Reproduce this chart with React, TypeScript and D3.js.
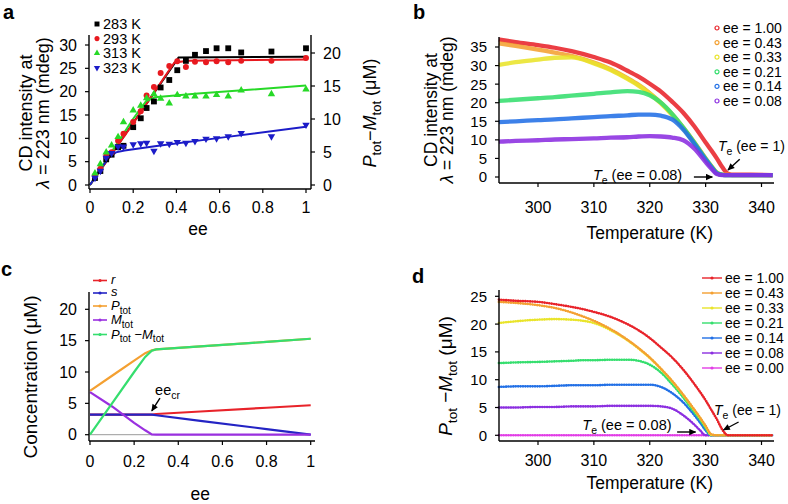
import React from 'react';
import * as d3 from 'd3';

const FONT = '"Liberation Sans", Arial, Helvetica, sans-serif';

// ---- panel a: CD intensity vs ee at four temperatures ----
const eeA = [0.023, 0.048, 0.075, 0.1, 0.13, 0.155, 0.2, 0.235, 0.262, 0.296, 0.327, 0.367, 0.404, 0.444, 0.486, 0.537, 0.586, 0.64, 0.7, 0.84, 1.0];
const cd283 = [1.5, 3.0, 5.5, 6.5, 8.1, 8.4, 12.4, 14.3, 16.5, 17.9, 20.9, 22.5, 24.6, 26.6, 27.9, 28.7, 29.3, 29.3, 28.4, 28.6, 29.3];
const cd293 = [2.0, 3.5, 6.2, 7.0, 9.5, 11.0, 13.5, 15.8, 19.2, 21.0, 24.0, 25.5, 26.5, 25.3, 26.4, 26.3, 26.5, 26.3, 26.6, 26.6, 27.2];
const cd313 = [2.5, 4.5, 7.0, 8.5, 10.3, 13.5, 16.0, 17.0, 18.6, 19.5, 18.5, 17.5, 19.3, 19.0, 19.0, 19.0, 19.3, 19.0, 20.3, 19.5, 20.5];
const cd323 = [1.5, 3.0, 5.8, 6.8, 8.2, 8.2, 8.7, 8.9, 9.0, 7.3, 8.9, 8.8, 9.2, 9.0, 9.4, 9.9, 10.0, 10.4, 11.1, 10.4, 12.9];
const fit283: [number, number][] = [[0, 0], [0.41, 27.3], [1, 27.5]];
const fit293: [number, number][] = [[0, 0], [0.2, 13.2], [0.39, 26.2], [0.45, 26.6], [1, 26.9]];
const fit313: [number, number][] = [[0, 0], [0.2, 14.2], [0.26, 18.0], [0.3, 18.8], [0.5, 19.6], [1, 21.3]];
const fit323: [number, number][] = [[0, 0], [0.05, 3.5], [0.09, 6.0], [0.12, 7.0], [0.16, 7.4], [0.3, 8.3], [0.6, 10.1], [1, 12.5]];
const legendA = ['283 K', '293 K', '313 K', '323 K'];

// ---- panel b: measured CD vs temperature ----
const tempB = [293, 296, 300, 303, 306, 310, 313, 316, 318, 320, 322, 324, 326, 328, 330, 331, 332, 333, 334, 335, 338, 342];
const cdB100 = [37.0, 36.3, 35.5, 34.8, 33.9, 32.3, 30.8, 28.6, 27.0, 25.1, 23.0, 20.3, 17.3, 13.6, 9.3, 7.2, 5.0, 2.6, 0.9, 0.6, 0.6, 0.5];
const cdB043 = [36.0, 35.3, 34.3, 33.5, 32.6, 30.8, 29.0, 26.6, 24.8, 22.6, 20.0, 16.9, 13.3, 9.3, 5.0, 3.0, 1.2, 0.6, 0.6, 0.5, 0.5, 0.5];
const cdB033 = [30.2, 30.9, 31.6, 32.1, 32.2, 30.6, 28.8, 26.4, 24.6, 22.4, 19.8, 16.7, 13.1, 9.1, 4.8, 2.8, 1.0, 0.6, 0.5, 0.5, 0.5, 0.5];
const cdB021 = [20.5, 20.8, 21.2, 21.5, 21.9, 22.4, 22.8, 23.1, 22.9, 22.0, 20.0, 17.0, 13.3, 9.2, 4.9, 2.9, 1.1, 0.6, 0.5, 0.5, 0.5, 0.5];
const cdB014 = [14.8, 15.0, 15.3, 15.5, 15.8, 16.1, 16.4, 16.6, 16.8, 16.8, 16.5, 15.5, 12.8, 8.9, 4.7, 2.7, 1.0, 0.6, 0.5, 0.5, 0.5, 0.5];
const cdB008 = [9.5, 9.7, 9.9, 10.1, 10.2, 10.4, 10.6, 10.7, 10.9, 11.0, 10.9, 10.6, 9.9, 7.6, 4.0, 2.3, 0.8, 0.5, 0.5, 0.5, 0.5, 0.5];
const legendB = ['ee = 1.00', 'ee = 0.43', 'ee = 0.33', 'ee = 0.21', 'ee = 0.14', 'ee = 0.08'];

// ---- panel c: model concentrations vs ee ----
const eeC = [0, 0.1, 0.2, 0.25, 0.28, 0.3, 0.5, 0.8, 1.0];
const concR = [3.2, 3.2, 3.2, 3.2, 3.2, 3.3, 3.7, 4.3, 4.7];
const concS = [3.2, 3.2, 3.2, 3.2, 3.2, 3.1, 2.2, 0.9, 0.0];
const concPtot = [7.0, 9.4, 11.8, 13.0, 13.45, 13.6, 14.1, 14.8, 15.3];
const concMtot = [6.8, 4.5, 1.9, 0.7, 0.05, 0, 0, 0, 0];
const concPM = [0, 5.0, 10.0, 12.4, 13.4, 13.6, 14.1, 14.8, 15.3];

// ---- panel d: model P_tot - M_tot vs temperature ----
const tempD = [293, 296, 300, 303, 306, 308, 310, 313, 316, 318, 320, 322, 324, 326, 328, 329, 330, 331, 332, 333, 334, 336, 342];
const pmD100 = [24.4, 24.2, 24.0, 23.6, 23.1, 22.7, 22.2, 21.3, 20.0, 18.9, 17.5, 15.8, 14.0, 11.8, 9.2, 7.8, 6.3, 4.6, 2.9, 1.0, 0, 0, 0];
const pmD043 = [24.0, 23.8, 23.4, 22.9, 22.1, 21.4, 20.6, 19.1, 17.2, 15.7, 14.0, 12.0, 9.8, 7.3, 4.6, 3.2, 1.7, 0.2, 0, 0, 0, 0, 0];
const pmD033 = [20.2, 20.5, 20.8, 20.9, 20.8, 20.6, 20.2, 18.9, 17.1, 15.6, 13.9, 11.9, 9.7, 7.2, 4.5, 3.1, 1.6, 0.1, 0, 0, 0, 0, 0];
const pmD021 = [13.0, 13.1, 13.2, 13.3, 13.4, 13.5, 13.5, 13.6, 13.6, 13.4, 12.7, 11.3, 9.2, 6.8, 4.1, 2.8, 1.3, 0, 0, 0, 0, 0, 0];
const pmD014 = [8.7, 8.8, 8.8, 8.9, 9.0, 9.0, 9.0, 9.1, 9.1, 9.1, 9.1, 8.7, 7.6, 5.9, 3.6, 2.3, 0.9, 0, 0, 0, 0, 0, 0];
const pmD008 = [5.0, 5.0, 5.1, 5.1, 5.2, 5.2, 5.2, 5.3, 5.3, 5.3, 5.3, 5.2, 4.8, 3.6, 1.9, 0.9, 0, 0, 0, 0, 0, 0, 0];
const pmD000 = [0, 0, 0, 0, 0, 0, 0, 0, 0, 0, 0, 0, 0, 0, 0, 0, 0, 0, 0, 0, 0, 0, 0];
const legendD = ['ee = 1.00', 'ee = 0.43', 'ee = 0.33', 'ee = 0.21', 'ee = 0.14', 'ee = 0.08', 'ee = 0.00'];

const ticksEe = [0, 0.2, 0.4, 0.6, 0.8, 1];
const ticksT = [300, 310, 320, 330, 340];

const RAINBOW = ['#e8232a', '#f4a031', '#e9e42a', '#35de6e', '#2270e6', '#8b2ee0', '#e23ee6'];

const zip = (xs: number[], ys: number[]): [number, number][] => xs.map((v, i) => [v, ys[i]]);
const fmtEe = (v: number) => (v === 0 || v === 1 ? String(v) : v.toFixed(1));

type Sc = d3.ScaleLinear<number, number>;

const pathOf = (x: Sc, y: Sc, pts: [number, number][], curve: d3.CurveFactory = d3.curveLinear) =>
  d3.line<[number, number]>().x((d) => x(d[0])).y((d) => y(d[1])).curve(curve)(pts) || '';

function LeftAxis({ y, ticks, x, top, bottom, fs, gap = 12, right = false }: any) {
  const dir = right ? 1 : -1;
  return (
    <g>
      <line x1={x} x2={x} y1={top} y2={bottom} stroke="#000" strokeWidth={1.4} />
      {ticks.map((t: number) => (
        <g key={t}>
          <line x1={x} x2={x + dir * 4} y1={y(t)} y2={y(t)} stroke="#000" strokeWidth={1.2} />
          <text x={x + dir * gap} y={y(t)} dy="0.36em" fontSize={fs} textAnchor={right ? 'start' : 'end'}>
            {t}
          </text>
        </g>
      ))}
    </g>
  );
}

function BottomAxis({ x, ticks, y, left, right, fs, base, fmt = String }: any) {
  return (
    <g>
      <line x1={left} x2={right} y1={y} y2={y} stroke="#000" strokeWidth={1.4} />
      {ticks.map((t: number) => (
        <g key={t}>
          <line x1={x(t)} x2={x(t)} y1={y} y2={y + 4} stroke="#000" strokeWidth={1.2} />
          <text x={x(t)} y={base} fontSize={fs} textAnchor="middle">
            {fmt(t)}
          </text>
        </g>
      ))}
    </g>
  );
}

const Rot = ({ x, y, fs, children }: any) => (
  <text transform={`translate(${x},${y}) rotate(-90)`} fontSize={fs} textAnchor="middle">
    {children}
  </text>
);

const sym = (type: d3.SymbolType, size: number) => d3.symbol().type(type).size(size)() || '';

export default function App() {
  // scales
  const xA = d3.scaleLinear().domain([0, 1]).range([90, 306]);
  const yA = d3.scaleLinear().domain([0, 30]).range([185, 45]);
  const yA2 = d3.scaleLinear().domain([0, 20]).range([185, 53]);

  const xB = d3.scaleLinear().domain([300, 340]).range([538, 761.5]);
  const yB = d3.scaleLinear().domain([0, 35]).range([177, 47]);

  const xC = d3.scaleLinear().domain([0, 1]).range([90, 310.7]);
  const yC = d3.scaleLinear().domain([0, 20]).range([434.7, 309.3]);

  const xD = d3.scaleLinear().domain([300, 340]).range([538, 761.5]);
  const yD = d3.scaleLinear().domain([0, 25]).range([435.3, 296.3]);

  const colorsA = ['#000000', '#e8191f', '#27d927', '#1c1cc8'];
  const shapesA = [
    sym(d3.symbolSquare, 34),
    sym(d3.symbolCircle, 28),
    sym(d3.symbolTriangle, 24),
    sym(d3.symbolTriangle, 24),
  ];
  const pointsA = [cd283, cd293, cd313, cd323];
  const fitsA = [fit283, fit293, fit313, fit323];

  const seriesB = [cdB100, cdB043, cdB033, cdB021, cdB014, cdB008];
  const seriesD = [pmD100, pmD043, pmD033, pmD021, pmD014, pmD008, pmD000];

  const cSeries = [
    { v: concR, c: '#e8232a' },
    { v: concPtot, c: '#f4a031' },
    { v: concS, c: '#2424c4' },
    { v: concMtot, c: '#9a30e0' },
    { v: concPM, c: '#35de6e' },
  ];
  const cLegendColors = ['#e8232a', '#2424c4', '#f4a031', '#9a30e0', '#35de6e'];
  const cLegendY = [280.5, 293, 306, 320, 334.5];

  const arrow = 'url(#arr)';

  return (
    <svg
      width={788}
      height={504}
      viewBox="0 0 788 504"
      style={{ position: 'absolute', left: 0, top: 0, background: '#fff' }}
      fontFamily={FONT}
    >
      <defs>
        <marker id="arr" viewBox="0 0 10 10" refX="9" refY="5" markerUnits="userSpaceOnUse" markerWidth="8" markerHeight="7" orient="auto">
          <path d="M0,0.5 L10,5 L0,9.5 z" fill="#000" />
        </marker>
      </defs>
      <rect width={788} height={504} fill="#fff" />

      {/* ================= a ================= */}
      <text x={3} y={19} fontSize={20} fontWeight="bold">a</text>
      {fitsA.map((f, i) => (
        <path key={i} d={pathOf(xA, yA, f)} fill="none" stroke={colorsA[i]} strokeWidth={2} />
      ))}
      {pointsA.map((vals, i) =>
        zip(eeA, vals).map((p, j) => (
          <path
            key={`${i}-${j}`}
            d={shapesA[i]}
            fill={colorsA[i]}
            transform={`translate(${xA(p[0])},${yA(p[1])})${i === 3 ? ' rotate(180)' : ''}`}
          />
        ))
      )}
      <LeftAxis y={yA} ticks={[0, 5, 10, 15, 20, 25, 30]} x={89} top={35} bottom={189} fs={16} />
      <LeftAxis y={yA2} ticks={[0, 5, 10, 15, 20]} x={311} top={35} bottom={189} fs={16} right />
      <BottomAxis x={xA} ticks={ticksEe} y={189} left={89} right={311} fs={16} base={213} fmt={fmtEe} />
      <text x={xA(0.5)} y={235} fontSize={17.5} textAnchor="middle">ee</text>
      <Rot x={32} y={113} fs={18}>CD intensity at</Rot>
      <Rot x={49} y={113} fs={18}>
        <tspan fontStyle="italic">λ</tspan> = 223 nm (mdeg)
      </Rot>
      <Rot x={376} y={113} fs={18}>
        <tspan fontStyle="italic">P</tspan>
        <tspan fontSize={13} dy={5}>tot</tspan>
        <tspan dy={-5}>−</tspan>
        <tspan fontStyle="italic">M</tspan>
        <tspan fontSize={13} dy={5}>tot</tspan>
        <tspan dy={-5}> (μM)</tspan>
      </Rot>
      {legendA.map((l, i) => (
        <g key={l} transform={`translate(97,${24 + i * 14.6})`}>
          <path d={shapesA[i]} fill={colorsA[i]} transform={`scale(0.85)${i === 3 ? ' rotate(180)' : ''}`} />
          <text x={6} y={0} dy="0.36em" fontSize={14.5}>{l}</text>
        </g>
      ))}

      {/* ================= b ================= */}
      <text x={413} y={19} fontSize={20} fontWeight="bold">b</text>
      {seriesB.map((s, i) => (
        <path
          key={i}
          d={pathOf(xB, yB, zip(tempB, s), d3.curveMonotoneX)}
          fill="none"
          stroke={RAINBOW[i]}
          strokeWidth={4.3}
          strokeLinejoin="round"
          strokeOpacity={0.88}
        />
      ))}
      <LeftAxis y={yB} ticks={[0, 5, 10, 15, 20, 25, 30, 35]} x={499} top={37} bottom={183} fs={15} />
      <BottomAxis x={xB} ticks={ticksT} y={183} left={499} right={774} fs={16} base={213} />
      <text x={xB(320)} y={239} fontSize={17.5} textAnchor="middle">Temperature (K)</text>
      <Rot x={437} y={110} fs={17.5}>CD intensity at</Rot>
      <Rot x={453} y={110} fs={17.5}>
        <tspan fontStyle="italic">λ</tspan> = 223 nm (mdeg)
      </Rot>
      {legendB.map((l, i) => (
        <g key={l} transform={`translate(717,${28 + i * 14.6})`}>
          <circle r={2} fill="none" stroke={RAINBOW[i]} strokeWidth={1.2} />
          <text x={6} y={0} dy="0.36em" fontSize={14}>{l}</text>
        </g>
      ))}
      <text x={xB(332.2)} y={151} fontSize={14}>
        <tspan fontStyle="italic">T</tspan>
        <tspan fontSize={10.5} dy={4}>e</tspan>
        <tspan dy={-4}> (ee = 1)</tspan>
      </text>
      <line x1={xB(336.1)} y1={yB(4.8)} x2={xB(334)} y2={yB(1.9)} stroke="#000" strokeWidth={1.4} markerEnd={arrow} />
      <text x={xB(325.8)} y={180} fontSize={14.5} textAnchor="end">
        <tspan fontStyle="italic">T</tspan>
        <tspan fontSize={10.5} dy={4}>e</tspan>
        <tspan dy={-4}> (ee = 0.08)</tspan>
      </text>
      <line x1={xB(327.9)} y1={177} x2={xB(331.2)} y2={177} stroke="#000" strokeWidth={1.4} markerEnd={arrow} />

      {/* ================= c ================= */}
      <text x={1} y={276} fontSize={20} fontWeight="bold">c</text>
      <line x1={xC(0)} x2={xC(1)} y1={yC(0)} y2={yC(0)} stroke="#9a9a9a" strokeWidth={1} />
      {cSeries.map((s, i) => (
        <path key={i} d={pathOf(xC, yC, zip(eeC, s.v))} fill="none" stroke={s.c} strokeWidth={2.2} />
      ))}
      <LeftAxis y={yC} ticks={[0, 5, 10, 15, 20]} x={89} top={292} bottom={441} fs={16} />
      <BottomAxis x={xC} ticks={ticksEe} y={441} left={89} right={315} fs={16} base={467} fmt={fmtEe} />
      <text x={xC(0.5)} y={500} fontSize={17.5} textAnchor="middle">ee</text>
      <Rot x={37} y={377} fs={19}>Concentration (μM)</Rot>
      {cLegendColors.map((c, i) => (
        <g key={i} transform={`translate(0,${cLegendY[i]})`}>
          <line x1={93} x2={107} stroke={c} strokeWidth={1.6} />
          <circle cx={100} r={1.6} fill={c} />
        </g>
      ))}
      <g fontSize={13}>
        <text x={111} y={cLegendY[0] + 3} fontStyle="italic">r</text>
        <text x={111} y={cLegendY[1] + 3} fontStyle="italic">s</text>
        <text x={111} y={cLegendY[2] + 4}>
          <tspan fontStyle="italic">P</tspan>
          <tspan fontSize={10} dy={3.5}>tot</tspan>
        </text>
        <text x={111} y={cLegendY[3] + 4}>
          <tspan fontStyle="italic">M</tspan>
          <tspan fontSize={10} dy={3.5}>tot</tspan>
        </text>
        <text x={111} y={cLegendY[4] + 4}>
          <tspan fontStyle="italic">P</tspan>
          <tspan fontSize={10} dy={3.5}>tot</tspan>
          <tspan dy={-3.5}> −</tspan>
          <tspan fontStyle="italic">M</tspan>
          <tspan fontSize={10} dy={3.5}>tot</tspan>
        </text>
      </g>
      <text x={xC(0.295)} y={yC(6.3)} fontSize={14.5}>
        ee<tspan fontSize={10.5} dy={4}>cr</tspan>
      </text>
      <line x1={xC(0.317)} y1={yC(5.85)} x2={xC(0.28)} y2={yC(3.8)} stroke="#000" strokeWidth={1.4} markerEnd={arrow} />

      {/* ================= d ================= */}
      <text x={412} y={283} fontSize={20} fontWeight="bold">d</text>
      {seriesD
        .map((s, i) => ({ s, i }))
        .reverse()
        .map(({ s, i }) => {
          const d = pathOf(xD, yD, zip(tempD, s), d3.curveMonotoneX);
          return (
            <g key={i}>
              <path d={d} fill="none" stroke={RAINBOW[i]} strokeWidth={1.3} />
              <path d={d} fill="none" stroke={RAINBOW[i]} strokeWidth={2.6} strokeLinecap="round" strokeDasharray="0.01 2.4" />
            </g>
          );
        })}
      <LeftAxis y={yD} ticks={[0, 5, 10, 15, 20, 25]} x={499} top={290} bottom={441} fs={15} />
      <BottomAxis x={xD} ticks={ticksT} y={441} left={499} right={774} fs={16} base={466} />
      <text x={xD(320)} y={489} fontSize={17.5} textAnchor="middle">Temperature (K)</text>
      <Rot x={452} y={376} fs={19}>
        <tspan fontStyle="italic">P</tspan>
        <tspan fontSize={13.5} dy={5}>tot</tspan>
        <tspan dy={-5}> −</tspan>
        <tspan fontStyle="italic">M</tspan>
        <tspan fontSize={13.5} dy={5}>tot</tspan>
        <tspan dy={-5}> (μM)</tspan>
      </Rot>
      {legendD.map((l, i) => (
        <g key={l} transform={`translate(0,${278 + i * 15})`}>
          <line x1={702} x2={722} stroke={RAINBOW[i]} strokeWidth={1.4} />
          <circle cx={712} r={1.6} fill={RAINBOW[i]} />
          <text x={725} y={0} dy="0.36em" fontSize={14}>{l}</text>
        </g>
      ))}
      <text x={xD(331.5)} y={415} fontSize={14}>
        <tspan fontStyle="italic">T</tspan>
        <tspan fontSize={10.5} dy={4}>e</tspan>
        <tspan dy={-4}> (ee = 1)</tspan>
      </text>
      <line x1={xD(335.9)} y1={422} x2={xD(333.2)} y2={430} stroke="#000" strokeWidth={1.4} markerEnd={arrow} />
      <text x={xD(323.9)} y={430} fontSize={14.5} textAnchor="end">
        <tspan fontStyle="italic">T</tspan>
        <tspan fontSize={10.5} dy={4}>e</tspan>
        <tspan dy={-4}> (ee = 0.08)</tspan>
      </text>
      <line x1={xD(324.9)} y1={432} x2={xD(328.2)} y2={432} stroke="#000" strokeWidth={1.4} markerEnd={arrow} />
    </svg>
  );
}
